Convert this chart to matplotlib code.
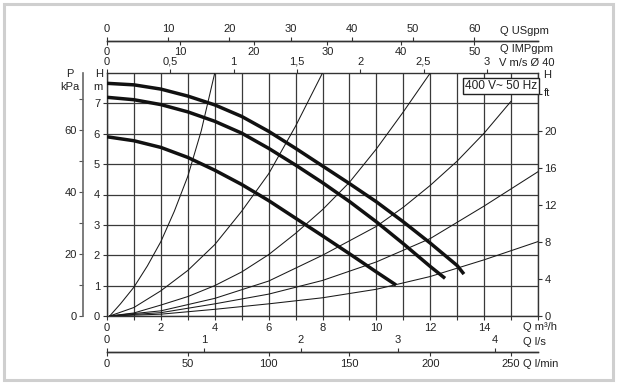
"""Pump curves chart: H-Q with system curves and extra unit scales."""

import matplotlib

matplotlib.use("Agg")
import matplotlib.pyplot as plt
from matplotlib.patches import Rectangle

plt.rcParams["font.family"] = ["Liberation Sans", "DejaVu Sans"]

W, H = 619, 384

# pump curves (Q m3/h, H m), three speeds
pump_hi_q = [0, 1, 2, 3, 4, 5, 6, 7, 8, 9, 10, 11, 12, 13, 13.25]
pump_hi_h = [7.66, 7.61, 7.47, 7.24, 6.95, 6.57, 6.08, 5.52, 4.94, 4.36, 3.76, 3.10, 2.40, 1.66, 1.38]
pump_mid_q = [0, 1, 2, 3, 4, 5, 6, 7, 8, 9, 10, 11, 12, 12.55]
pump_mid_h = [7.20, 7.12, 6.96, 6.72, 6.41, 6.02, 5.52, 4.97, 4.39, 3.77, 3.10, 2.38, 1.63, 1.24]
pump_lo_q = [0, 1, 2, 3, 4, 5, 6, 7, 8, 9, 10, 10.73]
pump_lo_h = [5.90, 5.77, 5.55, 5.22, 4.80, 4.33, 3.80, 3.22, 2.64, 2.05, 1.45, 1.02]

# system curves
sys_a_q = [0.1, 0.5, 1, 1.5, 2, 2.5, 3, 3.5, 4]
sys_a_h = [0, 0.4, 0.95, 1.65, 2.45, 3.45, 4.6, 6.1, 8.0]
sys_b_q = [0.1, 1, 2, 3, 4, 5, 6, 7, 8]
sys_b_h = [0, 0.28, 0.83, 1.5, 2.35, 3.45, 4.68, 6.25, 8.0]
sys_c_q = [0.1, 1, 2, 3, 4, 5, 6, 7, 8, 9, 10, 11, 12]
sys_c_h = [0, 0.1, 0.36, 0.64, 1.0, 1.45, 2.02, 2.72, 3.5, 4.4, 5.5, 6.72, 8.0]
sys_d_q = [0.1, 2, 4, 6, 8, 10, 11, 12, 13, 14, 15]
sys_d_h = [0, 0.17, 0.58, 1.15, 2.0, 2.95, 3.58, 4.3, 5.1, 6.02, 7.07]
sys_e_q = [0.1, 2, 4, 6, 8, 10, 12, 14, 16]
sys_e_h = [0, 0.11, 0.40, 0.72, 1.17, 1.78, 2.55, 3.62, 4.75]
sys_f_q = [0.1, 2, 4, 6, 8, 10, 12, 14, 16]
sys_f_h = [0, 0.06, 0.22, 0.40, 0.60, 0.88, 1.30, 1.85, 2.45]

# scales
q_ticks = list(range(0, 17))
q_labels = [str(v) if v % 2 == 0 and v < 16 else "" for v in q_ticks]
h_ticks = list(range(0, 8))
ft_ticks = [0, 4, 8, 12, 16, 20, 24]
ft_labels = ["0", "4", "8", "12", "16", "20", ""]
kpa_ticks = [0, 10, 20, 30, 40, 50, 60, 70]
kpa_labels = ["0", "", "20", "", "40", "", "60", ""]
usgpm_ticks = [0, 10, 20, 30, 40, 50, 60]
impgpm_ticks = [0, 10, 20, 30, 40, 50]
v_ticks = [0, 0.5, 1, 1.5, 2, 2.5, 3]
v_labels = ["0", "0,5", "1", "1,5", "2", "2,5", "3"]
ls_ticks = [0, 1, 2, 3, 4]
lmin_ticks = [0, 50, 100, 150, 200, 250]

Q_MAX, H_MAX = 16, 8
M_TO_FT = 1 / 0.3048
M_TO_KPA = 9.80665
US_PER_M3H = 4.403
IMP_PER_M3H = 3.666
M3H_PER_MS = 4.70
M3H_PER_LS = 3.6

TXT = "#222222"
FS = 8


def px_box(x0, y0, x1, y1):
    return [x0 / W, 1 - y1 / H, (x1 - x0) / W, (y1 - y0) / H]


def fig_text(x, y, s, **kw):
    fig.text(x / W, 1 - y / H, s, fontsize=FS, color=TXT, va="center", **kw)


def scale_axis(y_px, factor, ticks, labels, up, pad):
    sa = fig.add_axes(px_box(107, y_px, 538, y_px + 0.02))
    sa.patch.set_visible(False)
    sa.set_xlim(0, Q_MAX * factor)
    sa.set_yticks([])
    for side in ("left", "right", "top", "bottom"):
        sa.spines[side].set_visible(False)
    side = "top" if up else "bottom"
    sa.spines[side].set_visible(True)
    sa.spines[side].set_linewidth(1.0)
    sa.spines[side].set_color("#333333")
    sa.xaxis.set_ticks_position(side)
    sa.xaxis.set_label_position(side)
    sa.set_xticks(ticks, labels)
    sa.tick_params(axis="x", direction="out", length=3, width=0.8, pad=pad,
                   labelsize=FS, labelcolor=TXT, color="#333333")
    return sa


fig = plt.figure(figsize=(W / 100, H / 100), dpi=100)
fig.add_artist(Rectangle((4 / W, 4 / H), 609 / W, 376 / H, transform=fig.transFigure,
                         fill=False, ec="#cfcfcf", lw=2.2))

ax = fig.add_axes(px_box(107, 73, 538, 316))
ax.set_xlim(0, Q_MAX)
ax.set_ylim(0, H_MAX)
ax.set_xticks(q_ticks, q_labels)
ax.set_yticks(h_ticks)
ax.grid(True, color="#3a3a3a", lw=0.9)
ax.set_axisbelow(True)
for sp in ax.spines.values():
    sp.set_color("#333333")
    sp.set_linewidth(1.0)
ax.tick_params(direction="out", length=3, width=0.8, pad=2, labelsize=FS,
               labelcolor=TXT, color="#333333")

for q, h in [(sys_a_q, sys_a_h), (sys_b_q, sys_b_h), (sys_c_q, sys_c_h),
             (sys_d_q, sys_d_h), (sys_e_q, sys_e_h), (sys_f_q, sys_f_h)]:
    ax.plot(q, h, color="#1a1a1a", lw=0.75, zorder=3)
for q, h in [(pump_hi_q, pump_hi_h), (pump_mid_q, pump_mid_h), (pump_lo_q, pump_lo_h)]:
    ax.plot(q, h, color="#111111", lw=2.5, zorder=4, solid_capstyle="butt",
            solid_joinstyle="round")

ax.text(0.914, 0.972, "400 V~ 50 Hz", transform=ax.transAxes, ha="center", va="top",
        fontsize=8.6, color=TXT, zorder=6,
        bbox=dict(boxstyle="square,pad=0.18", fc="white", ec="#222222", lw=1.0))

# right: H ft
axr = ax.twinx()
axr.set_ylim(0, H_MAX * M_TO_FT)
axr.set_yticks(ft_ticks, ft_labels)
axr.tick_params(direction="out", length=3, width=0.8, pad=1.5, labelsize=FS,
                labelcolor=TXT, color="#333333")
for sp in axr.spines.values():
    sp.set_visible(False)

# left: P kPa
axp = ax.twinx()
axp.set_ylim(0, H_MAX * M_TO_KPA)
axp.yaxis.set_ticks_position("left")
axp.yaxis.set_label_position("left")
for sp in axp.spines.values():
    sp.set_visible(False)
axp.spines["left"].set_visible(True)
axp.spines["left"].set_position(("axes", -24 / 431))
axp.spines["left"].set_color("#666666")
axp.spines["left"].set_linewidth(1.2)
axp.set_yticks(kpa_ticks, kpa_labels)
axp.tick_params(direction="out", length=3, width=0.8, pad=1.5, labelsize=FS,
                labelcolor=TXT, color="#555555")

# top: velocity on plot edge
axv = ax.twiny()
axv.set_xlim(0, Q_MAX / M3H_PER_MS)
axv.set_xticks(v_ticks, v_labels)
axv.tick_params(direction="out", length=3, width=0.8, pad=1.5, labelsize=FS,
                labelcolor=TXT, color="#333333")
for sp in axv.spines.values():
    sp.set_visible(False)

scale_axis(41, US_PER_M3H, usgpm_ticks, [str(v) for v in usgpm_ticks], True, 2)
scale_axis(41, IMP_PER_M3H, impgpm_ticks, [str(v) for v in impgpm_ticks], False, 1)
scale_axis(352, 1 / M3H_PER_LS, ls_ticks, [str(v) for v in ls_ticks], True, 2)
scale_axis(352, 1000 / 60, lmin_ticks, [str(v) for v in lmin_ticks], False, 2)

fig_text(500, 31, "Q USgpm", ha="left")
fig_text(500, 49, "Q IMPgpm", ha="left")
fig_text(499, 63, "V m/s Ø 40", ha="left")
fig_text(523, 327, "Q m³/h", ha="left")
fig_text(523, 342, "Q l/s", ha="left")
fig_text(523, 364, "Q l/min", ha="left")
fig_text(103, 74, "H", ha="right")
fig_text(103, 87, "m", ha="right")
fig_text(70, 74, "P", ha="center")
fig_text(70, 87, "kPa", ha="center")
fig_text(543, 75, "H", ha="left")
fig_text(544, 93, "ft", ha="left")

fig.savefig("out.png", dpi=100)
